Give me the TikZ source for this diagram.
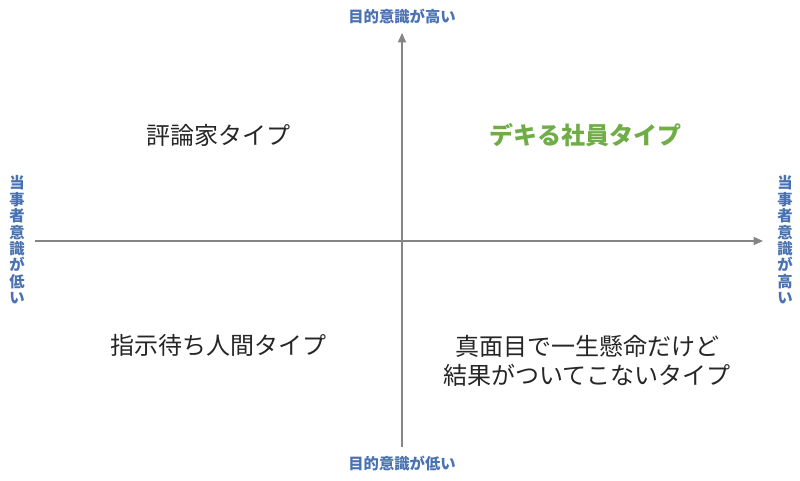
\documentclass[tikz,border=0pt]{standalone}
\usepackage{fontspec}
\setmainfont{Noto Sans CJK JP}
\usetikzlibrary{arrows.meta}
\definecolor{axisgray}{HTML}{858585}
\definecolor{lblblue}{HTML}{4A72B0}
\definecolor{good}{HTML}{70AD47}
\definecolor{txt}{HTML}{262626}
\tikzset{
  axis/.style={draw=axisgray, line width=0.9pt},
  axisarrow/.style={axis, -{Triangle[length=7pt,width=6pt]}},
  axlabel/.style={text=lblblue, font=\fontsize{11.5}{13}\selectfont\bfseries, inner sep=0pt},
  vlabel/.style={axlabel, align=center, font=\fontsize{11.5}{12.3}\selectfont\bfseries},
  quad/.style={text=txt, font=\fontsize{18}{21.5}\selectfont, inner sep=0pt, align=center},
  quadgood/.style={quad, text=good, font=\fontsize{18}{22}\selectfont\bfseries}
}
\begin{document}
\begin{tikzpicture}[x=0.75pt,y=-0.75pt]
\useasboundingbox (0,0) rectangle (800,480);
\fill[white] (0,0) rectangle (800,480);
\coordinate (L) at (35,241);
\coordinate (R) at (763,241);
\coordinate (B) at (402,447);
\coordinate (T) at (402,33);
\draw[axisarrow] (L) -- (R);
\draw[axisarrow] (B) -- (T);
\node[axlabel] (top) at (402,17) {目的意識が高い};
\node[axlabel] (bottom) at (402,464) {目的意識が低い};
\node[vlabel] (left) at (17,240) {当\\事\\者\\意\\識\\が\\低\\い};
\node[vlabel] (right) at (785,240) {当\\事\\者\\意\\識\\が\\高\\い};
\node[quad] (q1) at (218,135) {評論家タイプ};
\node[quadgood] (q2) at (585,135) {デキる社員タイプ};
\node[quad] (q3) at (218,345) {指示待ち人間タイプ};
\node[quad] (q4) at (587,361) {真面目で一生懸命だけど\\結果がついてこないタイプ};
\end{tikzpicture}
\end{document}
